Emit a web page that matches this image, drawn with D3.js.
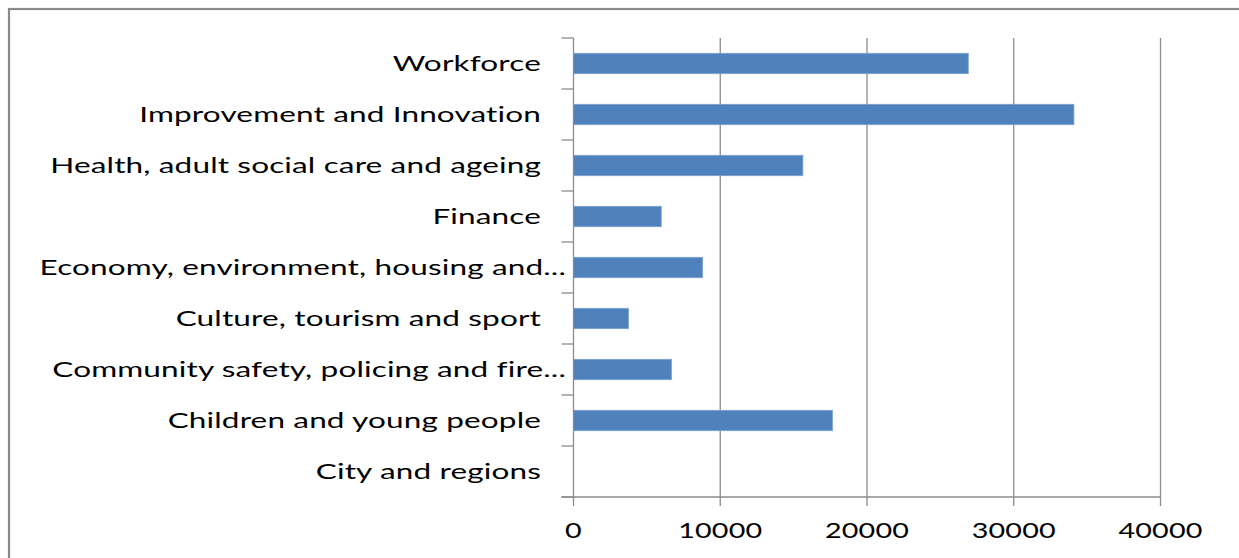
<!DOCTYPE html>
<html>
<head>
<meta charset="utf-8">
<script src="https://cdn.jsdelivr.net/npm/d3@7"></script>
<style>
  html, body { margin: 0; padding: 0; background: #fff; }
  svg { display: block; }
  text {
    font-family: Lato, "Open Sans", sans-serif; fill: #000;
    font-variant-ligatures: none;
    font-feature-settings: "liga" 0, "clig" 0, "dlig" 0, "calt" 0;
    letter-spacing: 0.1px;
  }
</style>
</head>
<body>
<svg id="chart" width="1239" height="558"></svg>
<script>
// Categories, top to bottom, as drawn on the vertical axis
const categories = [
  "Workforce",
  "Improvement and Innovation",
  "Health, adult social care and ageing",
  "Finance",
  "Economy, environment, housing and...",
  "Culture, tourism and sport",
  "Community safety, policing and fire...",
  "Children and young people",
  "City and regions"
];
const values = [26900, 34100, 15630, 5980, 8800, 3750, 6680, 17650, 0];
const xTicks = [0, 10000, 20000, 30000, 40000];

const svg = d3.select("#chart");
const plot = { left: 573.5, right: 1160.5, top: 38, bottom: 497 };

// Outer frame of the chart area
svg.append("rect")
  .attr("x", 9).attr("y", 9)
  .attr("width", 1300).attr("height", 700)
  .attr("fill", "none").attr("stroke", "#8a8a8a").attr("stroke-width", 2.2);

const x = d3.scaleLinear().domain([0, 40000]).range([plot.left, plot.right]);
const y = d3.scaleBand().domain(categories).range([plot.top, plot.bottom])
  .paddingInner(0.6).paddingOuter(0.3);

const gridColor = "#8c8c8c";

// Vertical gridlines
svg.append("g").selectAll("line").data(xTicks.slice(1)).join("line")
  .attr("x1", d => x(d)).attr("x2", d => x(d))
  .attr("y1", plot.top).attr("y2", plot.bottom)
  .attr("stroke", gridColor).attr("stroke-width", 1.3);

// Bars
svg.append("g").selectAll("rect").data(categories).join("rect")
  .attr("x", x(0))
  .attr("y", d => y(d))
  .attr("width", (d, i) => x(values[i]) - x(0))
  .attr("height", y.bandwidth())
  .attr("fill", "#4f81bd")
  .attr("stroke", (d, i) => values[i] > 0 ? "#7ea3d1" : "none")
  .attr("stroke-width", 0.8);

// Category axis: line plus outward ticks at band boundaries
const step = y.step();
const bounds = d3.range(categories.length + 1).map(i => plot.top + i * step);
svg.append("line")
  .attr("x1", x(0)).attr("x2", x(0))
  .attr("y1", plot.top).attr("y2", plot.bottom)
  .attr("stroke", gridColor).attr("stroke-width", 1.3);
svg.append("g").selectAll("line").data(bounds).join("line")
  .attr("x1", x(0) - 12).attr("x2", x(0))
  .attr("y1", d => d).attr("y2", d => d)
  .attr("stroke", gridColor).attr("stroke-width", 1.3);

// Value axis: baseline plus downward ticks
svg.append("line")
  .attr("x1", x(0) - 12).attr("x2", plot.right)
  .attr("y1", plot.bottom).attr("y2", plot.bottom)
  .attr("stroke", gridColor).attr("stroke-width", 1.3);
svg.append("g").selectAll("line").data(xTicks).join("line")
  .attr("x1", d => x(d)).attr("x2", d => x(d))
  .attr("y1", plot.bottom).attr("y2", plot.bottom + 9)
  .attr("stroke", gridColor).attr("stroke-width", 1.3);

const fontSize = 22;

// Category labels (horizontally widened type)
const catLabels = svg.append("g").selectAll("text").data(categories).join("text")
  .attr("font-size", fontSize)
  .attr("text-anchor", "end")
  .attr("dominant-baseline", "central")
  .text(d => d);
const ref = catLabels.filter(d => d === "Health, adult social care and ageing").node();
const sxCat = 491 / ref.getComputedTextLength();
catLabels.attr("transform", d => {
  const xEnd = d.endsWith("...") ? 566 : 541;
  return `translate(${xEnd},${y(d) + y.bandwidth() / 2 - 1}) scale(${sxCat},1)`;
});

// Value tick labels
const fmt = d3.format("d");
const tickLabels = svg.append("g").selectAll("text").data(xTicks).join("text")
  .attr("font-size", fontSize)
  .attr("text-anchor", "middle")
  .attr("dominant-baseline", "central")
  .text(d => fmt(d));
const refTick = tickLabels.filter(d => d === 40000).node();
const sxTick = 84 / refTick.getComputedTextLength();
tickLabels.attr("transform", d => `translate(${x(d)},${529.5}) scale(${sxTick},1)`);
</script>
</body>
</html>
